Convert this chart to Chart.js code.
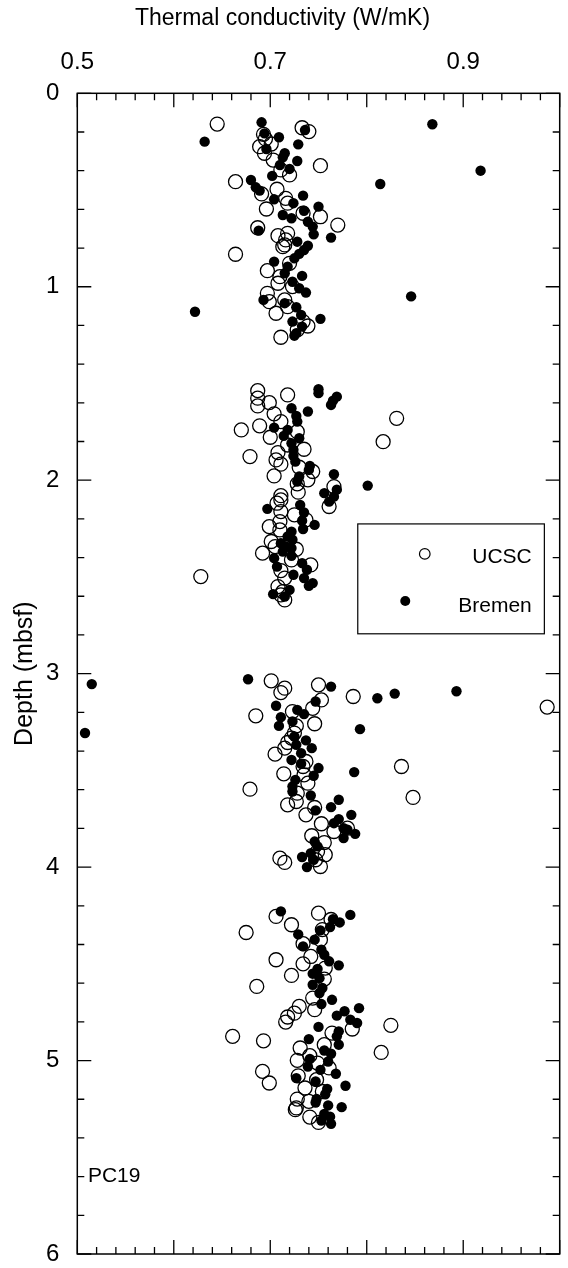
<!DOCTYPE html>
<html>
<head>
<meta charset="utf-8">
<script src="https://cdn.jsdelivr.net/npm/chart.js@4.4.1/dist/chart.umd.min.js"></script>
<style>
  html, body { margin: 0; padding: 0; background: #fff; }
  #wrap { width: 568px; height: 1268px; }
</style>
</head>
<body>
<div id="wrap"><canvas id="chart" width="568" height="1268"></canvas></div>
<script>
// thermal conductivity (W/mK) and depth (mbsf)
const ucscCond = [
  0.645, 0.733, 0.740, 0.693, 0.695, 0.689, 0.701, 0.694, 0.703, 0.752, 0.711, 0.720, 0.664, 0.691,
  0.707, 0.716, 0.718, 0.696, 0.734, 0.752, 0.770, 0.687, 0.708, 0.718, 0.716, 0.715, 0.713, 0.664,
  0.720, 0.697, 0.710, 0.708, 0.723, 0.697, 0.699, 0.715, 0.706, 0.718, 0.734, 0.739, 0.728, 0.711,
  0.687, 0.687, 0.687, 0.718, 0.699, 0.704, 0.711, 0.670, 0.689, 0.700, 0.728, 0.718, 0.735, 0.708,
  0.679, 0.706, 0.711, 0.704, 0.730, 0.744, 0.739, 0.728, 0.729, 0.766, 0.761, 0.711, 0.711, 0.707,
  0.711, 0.725, 0.737, 0.710, 0.699, 0.710, 0.701, 0.705, 0.692, 0.727, 0.722, 0.742, 0.711, 0.628,
  0.715, 0.708, 0.713, 0.715, 0.711, 0.831, 0.817,
  0.701, 0.715, 0.711, 0.750, 0.753, 0.786, 0.685, 0.723, 0.744, 0.746, 0.727, 0.725, 0.722, 0.718,
  0.715, 0.705, 0.737, 0.734, 0.714, 0.735, 0.739, 0.679, 0.728, 0.727, 0.718, 0.746, 0.737, 0.753,
  0.766, 0.780, 0.743, 0.756, 0.757, 0.749, 0.710, 0.715, 0.752, 0.747, 0.987, 0.836, 0.848,
  0.706, 0.750, 0.722, 0.675, 0.763, 0.754, 0.734, 0.742, 0.752, 0.706, 0.734, 0.757, 0.722, 0.756,
  0.686, 0.744, 0.730, 0.746, 0.725, 0.718, 0.716, 0.785, 0.825, 0.764, 0.661, 0.693, 0.756, 0.731,
  0.741, 0.728, 0.815, 0.749, 0.761, 0.692, 0.729, 0.748, 0.699, 0.736, 0.754, 0.728, 0.740, 0.727,
  0.726, 0.741, 0.750
];
const ucscDepth = [
  0.159, 0.178, 0.198, 0.212, 0.236, 0.276, 0.262, 0.310, 0.345, 0.374, 0.396, 0.422, 0.457, 0.520,
  0.496, 0.543, 0.568, 0.598, 0.620, 0.638, 0.681, 0.695, 0.736, 0.724, 0.758, 0.784, 0.793, 0.832,
  0.879, 0.917, 0.948, 0.982, 0.999, 1.034, 1.077, 1.068, 1.137, 1.103, 1.180, 1.203, 1.223, 1.261,
  1.537, 1.576, 1.616, 1.559, 1.599, 1.657, 1.697, 1.740, 1.719, 1.778, 1.749, 1.818, 1.840, 1.857,
  1.878, 1.895, 1.917, 1.978, 1.933, 1.955, 1.998, 2.019, 2.062, 2.033, 2.136, 2.080, 2.102, 2.119,
  2.162, 2.179, 2.205, 2.214, 2.240, 2.257, 2.317, 2.343, 2.377, 2.357, 2.412, 2.438, 2.467, 2.498,
  2.506, 2.550, 2.576, 2.619, 2.593, 1.680, 1.801,
  3.037, 3.075, 3.098, 3.058, 3.136, 3.118, 3.218, 3.196, 3.179, 3.259, 3.270, 3.307, 3.333, 3.356,
  3.385, 3.416, 3.454, 3.480, 3.518, 3.523, 3.566, 3.597, 3.618, 3.661, 3.678, 3.692, 3.730, 3.776,
  3.816, 3.799, 3.838, 3.873, 3.936, 3.919, 3.954, 3.976, 3.997, 3.962, 3.173, 3.480, 3.640,
  4.255, 4.238, 4.298, 4.338, 4.271, 4.323, 4.396, 4.462, 4.375, 4.479, 4.500, 4.522, 4.560, 4.579,
  4.617, 4.677, 4.720, 4.737, 4.755, 4.775, 4.801, 4.837, 4.818, 4.858, 4.875, 4.898, 4.918, 4.935,
  4.975, 4.999, 4.958, 5.013, 5.038, 5.056, 5.079, 5.099, 5.116, 5.142, 5.160, 5.199, 5.211, 5.245,
  5.254, 5.292, 5.320
];
const bremenCond = [
  0.691, 0.736, 0.694, 0.709, 0.632, 0.729, 0.696, 0.715, 0.713, 0.728, 0.710, 0.720, 0.702, 0.814,
  0.680, 0.685, 0.689, 0.734, 0.704, 0.724, 0.750, 0.735, 0.713, 0.722, 0.739, 0.744, 0.688, 0.745,
  0.763, 0.728, 0.739, 0.735, 0.730, 0.725, 0.704, 0.718, 0.715, 0.733, 0.723, 0.730, 0.737, 0.693,
  0.715, 0.622, 0.727, 0.732, 0.752, 0.723, 0.733, 0.727, 0.725, 0.868, 0.918, 0.846,
  0.750, 0.750, 0.769, 0.765, 0.763, 0.722, 0.739, 0.727, 0.728, 0.704, 0.718, 0.714, 0.730, 0.722,
  0.724, 0.724, 0.726, 0.741, 0.740, 0.730, 0.728, 0.766, 0.801, 0.769, 0.756, 0.766, 0.761, 0.697,
  0.731, 0.735, 0.733, 0.746, 0.734, 0.722, 0.718, 0.723, 0.711, 0.716, 0.722, 0.713, 0.722, 0.704,
  0.707, 0.733, 0.738, 0.724, 0.735, 0.740, 0.744, 0.720, 0.703, 0.715,
  0.677, 0.763, 0.747, 0.706, 0.711, 0.709, 0.728, 0.735, 0.723, 0.725, 0.737, 0.727, 0.743, 0.732,
  0.722, 0.732, 0.750, 0.745, 0.726, 0.723, 0.723, 0.742, 0.793, 0.787, 0.771, 0.763, 0.747, 0.784,
  0.771, 0.766, 0.776, 0.780, 0.788, 0.776, 0.746, 0.749, 0.742, 0.733, 0.745, 0.738, 0.515, 0.508,
  0.893, 0.829, 0.811,
  0.711, 0.783, 0.765, 0.772, 0.762, 0.752, 0.729, 0.746, 0.734, 0.753, 0.756, 0.761, 0.771, 0.749,
  0.744, 0.751, 0.744, 0.754, 0.751, 0.764, 0.753, 0.792, 0.777, 0.769, 0.783, 0.790, 0.750, 0.771,
  0.769, 0.771, 0.740, 0.756, 0.763, 0.741, 0.760, 0.739, 0.752, 0.768, 0.727, 0.747, 0.778, 0.759,
  0.757, 0.748, 0.774, 0.760, 0.747, 0.756, 0.762, 0.753, 0.763
];
const bremenDepth = [
  0.150, 0.190, 0.207, 0.227, 0.250, 0.264, 0.288, 0.310, 0.331, 0.350, 0.371, 0.391, 0.427, 0.469,
  0.448, 0.486, 0.503, 0.529, 0.548, 0.568, 0.586, 0.607, 0.629, 0.646, 0.664, 0.689, 0.710, 0.729,
  0.746, 0.767, 0.788, 0.810, 0.830, 0.853, 0.870, 0.896, 0.930, 0.944, 0.974, 1.008, 1.030, 1.068,
  1.085, 1.129, 1.106, 1.146, 1.166, 1.180, 1.206, 1.240, 1.253, 0.160, 0.400, 1.050,
  1.530, 1.550, 1.568, 1.589, 1.611, 1.628, 1.645, 1.668, 1.697, 1.728, 1.740, 1.771, 1.783, 1.809,
  1.843, 1.874, 1.904, 1.926, 1.947, 1.981, 2.007, 1.969, 2.028, 2.049, 2.067, 2.085, 2.111, 2.148,
  2.128, 2.167, 2.209, 2.231, 2.252, 2.266, 2.291, 2.308, 2.326, 2.343, 2.351, 2.369, 2.391, 2.403,
  2.447, 2.429, 2.463, 2.489, 2.506, 2.546, 2.532, 2.567, 2.589, 2.602,
  3.029, 3.067, 3.144, 3.166, 3.225, 3.270, 3.187, 3.209, 3.247, 3.325, 3.345, 3.368, 3.385, 3.411,
  3.446, 3.466, 3.488, 3.528, 3.549, 3.583, 3.609, 3.630, 3.287, 3.509, 3.652, 3.690, 3.707, 3.730,
  3.752, 3.773, 3.799, 3.807, 3.828, 3.850, 3.868, 3.893, 3.928, 3.948, 3.962, 4.000, 3.054, 3.307,
  3.091, 3.103, 3.127,
  4.229, 4.247, 4.269, 4.286, 4.310, 4.327, 4.348, 4.375, 4.410, 4.427, 4.453, 4.487, 4.508, 4.527,
  4.551, 4.574, 4.608, 4.625, 4.651, 4.686, 4.708, 4.729, 4.745, 4.768, 4.789, 4.806, 4.826, 4.849,
  4.875, 4.918, 4.889, 4.948, 4.965, 4.992, 5.005, 5.031, 5.048, 5.068, 5.091, 5.108, 5.130, 5.147,
  5.174, 5.199, 5.241, 5.232, 5.217, 5.276, 5.290, 5.310, 5.327
];
const xLabels = [0.5, 0.7, 0.9];
const yLabels = [0, 1, 2, 3, 4, 5, 6];
const seriesNames = ['UCSC', 'Bremen'];
const coreName = 'PC19';

const FONT = '"Liberation Sans", Arial, Helvetica, sans-serif';

const toPoints = (xs, ys) => xs.map((x, i) => ({ x: x, y: ys[i] }));

// frame with inward ticks on all four sides, plus the core name and the boxed key
const framePlugin = {
  id: 'frame',
  afterDraw(chart) {
    const { ctx, chartArea: a, scales } = chart;
    ctx.save();
    ctx.strokeStyle = '#000';
    ctx.lineWidth = 1.5;
    ctx.strokeRect(a.left, a.top, a.right - a.left, a.bottom - a.top);
    ctx.lineWidth = 1.3;
    ctx.beginPath();
    scales.x.ticks.forEach((t) => {
      const px = scales.x.getPixelForValue(t.value);
      const major = Math.abs(t.value * 10 - Math.round(t.value * 10)) < 1e-6;
      const len = major ? 14 : 7;
      ctx.moveTo(px, a.top); ctx.lineTo(px, a.top + len);
      ctx.moveTo(px, a.bottom); ctx.lineTo(px, a.bottom - len);
    });
    scales.y.ticks.forEach((t) => {
      const py = scales.y.getPixelForValue(t.value);
      const major = Math.abs(t.value - Math.round(t.value)) < 1e-6;
      const len = major ? 14 : 7;
      ctx.moveTo(a.left, py); ctx.lineTo(a.left + len, py);
      ctx.moveTo(a.right, py); ctx.lineTo(a.right - len, py);
    });
    ctx.stroke();

    ctx.fillStyle = '#000';
    ctx.font = '21px ' + FONT;
    ctx.textBaseline = 'alphabetic';
    ctx.textAlign = 'left';
    ctx.fillText(coreName, scales.x.getPixelForValue(0.511), scales.y.getPixelForValue(5.63));

    const lx0 = scales.x.getPixelForValue(0.7907), lx1 = scales.x.getPixelForValue(0.9841);
    const ly0 = scales.y.getPixelForValue(2.226), ly1 = scales.y.getPixelForValue(2.794);
    ctx.lineWidth = 1.2;
    ctx.strokeRect(lx0, ly0, lx1 - lx0, ly1 - ly0);
    ctx.font = '21px ' + FONT;
    ctx.textAlign = 'right';
    ctx.fillText(seriesNames[0], lx0 + 174, ly0 + 39);
    ctx.fillText(seriesNames[1], lx0 + 174, ly0 + 88);
    ctx.beginPath();
    ctx.arc(lx0 + 67, ly0 + 30, 5.3, 0, Math.PI * 2);
    ctx.stroke();
    ctx.beginPath();
    ctx.arc(lx0 + 47.5, ly0 + 77, 5, 0, Math.PI * 2);
    ctx.fill();
    ctx.restore();
  }
};

new Chart(document.getElementById('chart').getContext('2d'), {
  type: 'scatter',
  data: {
    datasets: [
      {
        label: seriesNames[0],
        data: toPoints(ucscCond, ucscDepth),
        pointStyle: 'circle',
        pointRadius: 7,
        pointBorderWidth: 1.3,
        borderColor: '#000',
        backgroundColor: 'rgba(0,0,0,0)',
        order: 2,
      },
      {
        label: seriesNames[1],
        data: toPoints(bremenCond, bremenDepth),
        pointStyle: 'circle',
        pointRadius: 5.2,
        pointBorderWidth: 0,
        borderColor: '#000',
        backgroundColor: '#000',
        order: 1,
      },
    ],
  },
  options: {
    responsive: false,
    animation: false,
    events: [],
    layout: { padding: { left: 0, right: 3, top: 0, bottom: 14 } },
    plugins: {
      legend: { display: false },
      tooltip: { enabled: false },
      title: {
        display: true,
        text: 'Thermal conductivity (W/mK)',
        color: '#000',
        font: { family: FONT, size: 23, weight: 'normal', lineHeight: 1.2 },
        padding: { top: 5, bottom: 0 },
      },
    },
    scales: {
      x: {
        type: 'linear',
        position: 'top',
        min: 0.5,
        max: 1.0,
        grid: { display: false, drawTicks: false },
        border: { display: false },
        afterFit: (s) => { s.height = 60.7; s.paddingLeft = 0; s.paddingRight = 0; },
        ticks: {
          stepSize: 0.02,
          autoSkip: false,
          maxRotation: 0,
          padding: 17,
          color: '#000',
          font: { family: FONT, size: 24 },
          callback: (v) => {
            const hit = xLabels.find((l) => Math.abs(l - v) < 1e-6);
            return hit === undefined ? '' : hit.toFixed(1);
          },
        },
      },
      y: {
        type: 'linear',
        reverse: true,
        min: 0,
        max: 6,
        grid: { display: false, drawTicks: false },
        border: { display: false },
        afterFit: (s) => { s.width = 77.3; s.paddingTop = 0; s.paddingBottom = 0; },
        title: {
          display: true,
          text: 'Depth (mbsf)',
          color: '#000',
          font: { family: FONT, size: 25 },
          padding: { top: 10, bottom: 0 },
        },
        ticks: {
          stepSize: 0.2,
          autoSkip: false,
          padding: 18,
          color: '#000',
          font: { family: FONT, size: 24 },
          callback: (v) => {
            const hit = yLabels.find((l) => Math.abs(l - v) < 1e-6);
            return hit === undefined ? '' : String(hit);
          },
        },
      },
    },
  },
  plugins: [framePlugin],
});
</script>
</body>
</html>
